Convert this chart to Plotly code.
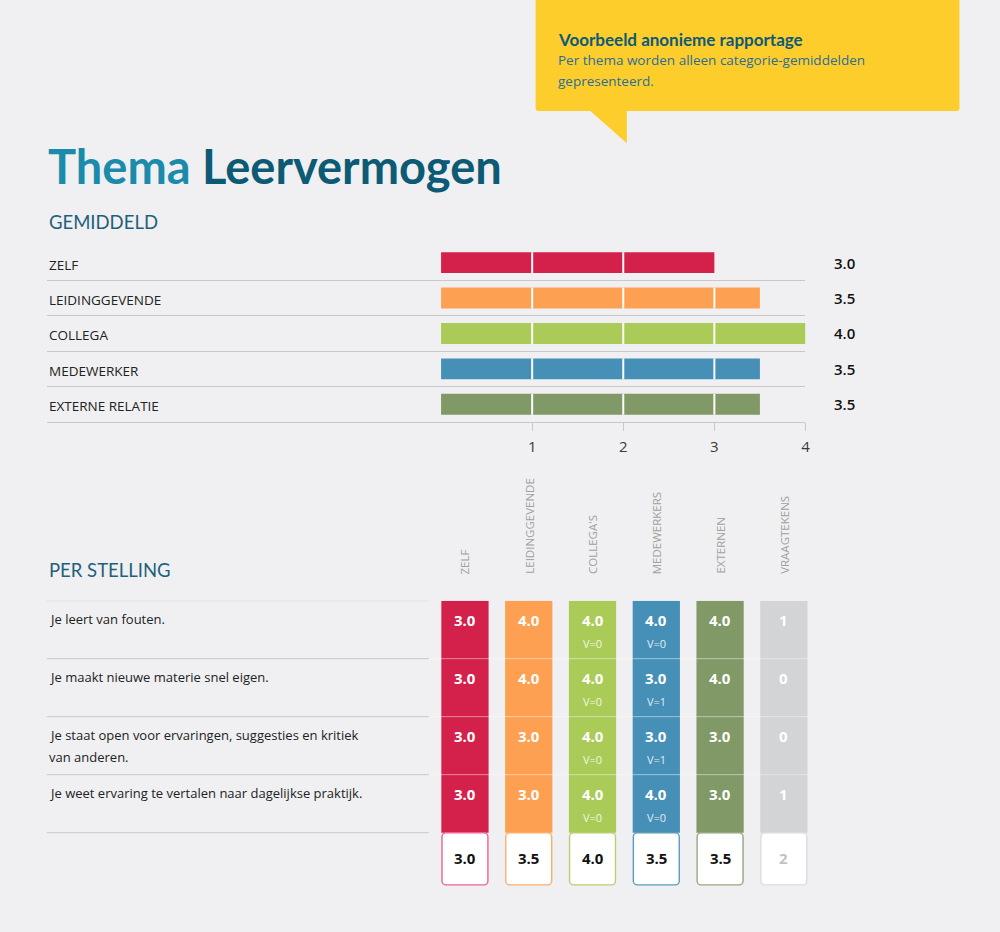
import plotly.graph_objects as go

W, H = 1000, 932
BG = "#f0f0f2"

# ---------------- data ----------------
categories = ["ZELF", "LEIDINGGEVENDE", "COLLEGA", "MEDEWERKER", "EXTERNE RELATIE"]
averages = [3.0, 3.5, 4.0, 3.5, 3.5]
bar_colors = ["#d3214c", "#fda052", "#abcb58", "#4690b8", "#809966"]
x_ticks = [1, 2, 3, 4]

columns = ["ZELF", "LEIDINGGEVENDE", "COLLEGA'S", "MEDEWERKERS", "EXTERNEN", "VRAAGTEKENS"]
col_colors = ["#d3214c", "#fda052", "#abcb58", "#4690b8", "#809966", "#d3d4d6"]
border_colors = ["#f0628f", "#fdae6b", "#b5d06d", "#5a9cc0", "#93a87d", "#dcdcde"]

statements = [
    "Je leert van fouten.",
    "Je maakt nieuwe materie snel eigen.",
    "Je staat open voor ervaringen, suggesties en kritiek\nvan anderen.",
    "Je weet ervaring te vertalen naar dagelijkse praktijk.",
]
zelf = [3.0, 3.0, 3.0, 3.0]
leidinggevende = [4.0, 4.0, 3.0, 3.0]
collegas = [4.0, 4.0, 4.0, 4.0]
medewerkers = [4.0, 3.0, 3.0, 4.0]
externen = [4.0, 4.0, 3.0, 3.0]
vraagtekens = [1, 0, 0, 1]
v_collegas = [0, 0, 0, 0]
v_medewerkers = [0, 1, 1, 0]
column_means = [3.0, 3.5, 4.0, 3.5, 3.5]
vraagtekens_total = 2

score_columns = [zelf, leidinggevende, collegas, medewerkers, externen]
v_columns = {2: v_collegas, 3: v_medewerkers}


def px(x):
    return x / W


def py(y):
    return 1 - y / H


fig = go.Figure()

# ---------------- top chart: averages ----------------
fig.add_trace(go.Bar(
    x=averages, y=list(range(len(categories))), orientation="h",
    marker=dict(color=bar_colors, line=dict(width=0)), width=0.59,
    xaxis="x", yaxis="y", hoverinfo="skip", showlegend=False,
))

annotations = []
shapes = []

for i, v in enumerate(averages):
    for g in x_ticks:
        if g < v:
            shapes.append(dict(type="line", xref="x", yref="y", x0=g, x1=g,
                               y0=i - 0.295, y1=i + 0.295,
                               line=dict(color="white", width=2), layer="above"))
    annotations.append(dict(xref="paper", yref="y", x=px(47), y=i, yshift=-2,
                            xanchor="left", yanchor="middle", text=categories[i],
                            showarrow=False,
                            font=dict(family="Open Sans", size=13.5, color="#222222")))
    annotations.append(dict(xref="paper", yref="y", x=px(849), y=i,
                            xanchor="center", yanchor="middle", text=f"{v:.1f}",
                            showarrow=False,
                            font=dict(family="Open Sans", size=15, color="#111111", weight=600)))

# ---------------- bottom grid: per statement ----------------
n_rows = len(statements)
positions = list(range(len(columns)))
for r in range(n_rows):
    fig.add_trace(go.Bar(
        x=positions, y=[1] * len(columns), base=[r] * len(columns), width=0.741,
        marker=dict(color=col_colors, line=dict(width=0)),
        xaxis="x2", yaxis="y2", hoverinfo="skip", showlegend=False,
    ))
fig.add_trace(go.Bar(
    x=positions, y=[0.9] * len(columns), base=[n_rows] * len(columns), width=0.72,
    marker=dict(color="white", line=dict(color=border_colors, width=1.4), cornerradius=4),
    xaxis="x2", yaxis="y2", hoverinfo="skip", showlegend=False,
))

for r in range(n_rows):
    for c, col in enumerate(score_columns):
        annotations.append(dict(xref="x2", yref="y2", x=c, y=r + 0.33,
                                text=f"{col[r]:.1f}", showarrow=False,
                                font=dict(family="Open Sans", size=15, color="white", weight=700)))
        if c in v_columns:
            annotations.append(dict(xref="x2", yref="y2", x=c, y=r + 0.74,
                                    text=f"V={v_columns[c][r]}", showarrow=False,
                                    font=dict(family="Open Sans", size=11,
                                              color="rgba(255,255,255,0.85)")))
    annotations.append(dict(xref="x2", yref="y2", x=5, y=r + 0.33,
                            text=str(vraagtekens[r]), showarrow=False,
                            font=dict(family="Open Sans", size=15, color="white", weight=700)))
    for k, line in enumerate(statements[r].split("\n")):
        annotations.append(dict(xref="paper", yref="y2", x=px(47), y=r + 0.32 + k * 0.375,
                                xanchor="left", yanchor="middle", text=line, showarrow=False,
                                font=dict(family="Open Sans", size=13, color="#222222")))

for c, m in enumerate(column_means):
    annotations.append(dict(xref="x2", yref="y2", x=c, y=n_rows + 0.44, text=f"{m:.1f}",
                            showarrow=False,
                            font=dict(family="Open Sans", size=15, color="#111111", weight=700)))
annotations.append(dict(xref="x2", yref="y2", x=5, y=n_rows + 0.44, text=str(vraagtekens_total),
                        showarrow=False,
                        font=dict(family="Open Sans", size=15, color="#c2c2c4", weight=700)))

for c, name in enumerate(columns):
    annotations.append(dict(xref="x2", yref="paper", x=c, y=py(576), textangle=-90,
                            xanchor="center", yanchor="bottom", text=name, showarrow=False,
                            font=dict(family="Open Sans", size=11.5, color="#a0a0a2")))

for r in range(n_rows + 1):
    shapes.append(dict(type="line", xref="paper", yref="y2", x0=px(47), x1=px(431), y0=r, y1=r,
                       line=dict(color="#c8c8ca", width=1), layer="below"))
for r in range(1, n_rows):
    shapes.append(dict(type="line", xref="paper", yref="y2", x0=px(431), x1=px(813), y0=r, y1=r,
                       line=dict(color="rgba(255,255,255,0.35)", width=1), layer="above"))

# ---------------- headings ----------------
annotations.append(dict(xref="paper", yref="paper", x=px(46), y=py(166), xanchor="left",
                        yanchor="middle", showarrow=False,
                        text="<span style='color:#1a8bab'>Thema</span> "
                             "<span style='color:#0d5a75'>Leervermogen</span>",
                        font=dict(family="Lato", size=47, weight=700)))
for label, yc in [("GEMIDDELD", 221.5), ("PER STELLING", 570)]:
    annotations.append(dict(xref="paper", yref="paper", x=px(47), y=py(yc), xanchor="left",
                            yanchor="middle", text=label, showarrow=False,
                            font=dict(family="Lato", size=18.5, color="#1d617a")))

# callout
bx0, bx1, bt, bb, rad = 538.3, 964.3, -5, 111, 3
tl, tr, tip = 593.3, 630, 143.3
path = (f"M {px(bx0)},{py(bt)} L {px(bx1)},{py(bt)} L {px(bx1)},{py(bb - rad)} "
        f"Q {px(bx1)},{py(bb)} {px(bx1 - rad)},{py(bb)} "
        f"L {px(tr)},{py(bb)} L {px(tr)},{py(tip)} L {px(tl)},{py(bb)} "
        f"L {px(bx0 + rad)},{py(bb)} Q {px(bx0)},{py(bb)} {px(bx0)},{py(bb - rad)} Z")
shapes.append(dict(type="path", xref="paper", yref="paper", path=path,
                   fillcolor="#fdcd2b", line=dict(width=0), layer="below"))
annotations.append(dict(xref="paper", yref="paper", x=px(559), y=py(39), xanchor="left",
                        yanchor="middle", text="Voorbeeld anonieme rapportage", showarrow=False,
                        font=dict(family="Lato", size=17, color="#0e5a78", weight=700)))
for line, yc in [("Per thema worden alleen categorie-gemiddelden", 60), ("gepresenteerd.", 81)]:
    annotations.append(dict(xref="paper", yref="paper", x=px(559), y=py(yc), xanchor="left",
                            yanchor="middle", text=line, showarrow=False,
                            font=dict(family="Open Sans", size=13.5, color="#2a6d9c")))

# ---------------- axes ----------------
x0_px, x4_px = 443.3, 809.5
unit = (x4_px - x0_px) / 4
col0_px, col_unit = 467.3, 64.1
row_unit = 58.0

fig.update_layout(
    width=W, height=H, margin=dict(l=0, r=0, t=0, b=0),
    paper_bgcolor=BG, plot_bgcolor="rgba(0,0,0,0)",
    barmode="overlay", showlegend=False,
    font=dict(family="Open Sans"),
    xaxis=dict(domain=[px(47), px(x4_px)], range=[-(x0_px - 47) / unit, 4],
               tickvals=x_ticks, ticks="outside", ticklen=8, tickcolor="#c8c8ca",
               showline=True, linecolor="#c8c8ca", linewidth=1, showgrid=False,
               zeroline=False, tickfont=dict(size=15, color="#3a3a3a"),
               ticklabelstandoff=3, anchor="y", fixedrange=True),
    yaxis=dict(domain=[py(422), py(244.9)], range=[4.5, -0.5],
               tickvals=[0.5, 1.5, 2.5, 3.5], showticklabels=False, ticks="",
               showgrid=True, gridcolor="#c8c8ca", gridwidth=1, zeroline=False,
               anchor="x", fixedrange=True),
    xaxis2=dict(domain=[px(430), px(820)],
                range=[-(col0_px - 430) / col_unit, (820 - col0_px) / col_unit],
                visible=False, anchor="y2", fixedrange=True),
    yaxis2=dict(domain=[py(600.7 + row_unit * 4.92), py(600.7)], range=[4.92, 0],
                visible=False, anchor="x2", fixedrange=True),
    annotations=annotations, shapes=shapes,
)

page_css = (
    "var s=document.createElement('style');"
    "s.innerHTML='html,body{margin:0;padding:0;width:%dpx;height:%dpx;overflow:hidden;"
    "background:%s;} body>div{display:block;height:%dpx;overflow:hidden;line-height:0;}';"
    "document.head.appendChild(s);" % (W, H, BG, H)
)

fig.write_html("out.html", config={"displayModeBar": False}, post_script=page_css)
